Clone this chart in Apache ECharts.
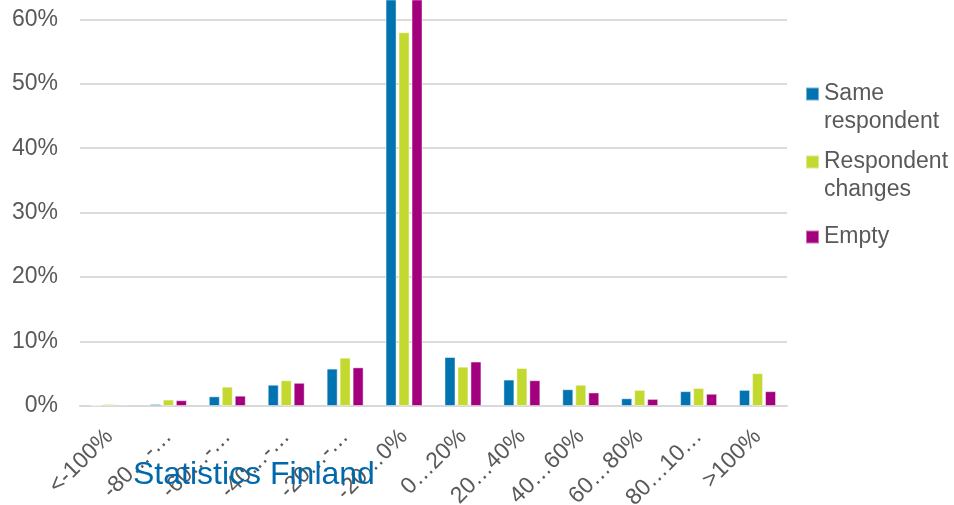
<!DOCTYPE html>
<html>
<head>
<meta charset="utf-8">
<script src="https://cdn.jsdelivr.net/npm/echarts@6/dist/echarts.min.js"></script>
<style>html,body{margin:0;padding:0;background:#fff}#c{width:954px;height:505px}</style>
</head>
<body>
<div id="c"></div>
<script>
const categories = ['<-100%', '-80…-…', '-60…-…', '-40…-…', '-20…-…', '-20…0%', '0…20%', '20…40%', '40…60%', '60…80%', '80…10…', '>100%'];
const seriesNames = ['Same\nrespondent', 'Respondent\nchanges', 'Empty'];
const sameRespondent = [0.1, 0.3, 1.5, 3.3, 5.8, 68.7, 7.6, 4.1, 2.6, 1.2, 2.3, 2.5];
const respondentChanges = [0.3, 1.0, 3.0, 4.0, 7.5, 58.0, 6.1, 5.9, 3.3, 2.5, 2.8, 5.1];
const empty = [0.2, 0.9, 1.6, 3.6, 6.0, 69.4, 6.9, 4.0, 2.1, 1.1, 1.9, 2.3];
const yTicks = [0, 10, 20, 30, 40, 50, 60];
const yMax = 63;
const footer = 'Statistics Finland';

const colors = ['#0073B0', '#C3D92F', '#A3007E'];
const font = 'Liberation Sans, Arial, sans-serif';
const textColor = '#595959';
const values = [sameRespondent, respondentChanges, empty];

const chart = echarts.init(document.getElementById('c'), null, {renderer: 'canvas'});

const lh = 28;
const centers = [94, 162, 237];
const legends = seriesNames.map((name, i) => {
  const lines = name.split('\n').length;
  const h = 13 + lh * (lines - 1);
  const icon = lines > 1 ? 'path://M0,0h13v13h-13z M0,' + (h - 0.01) + 'h0.01v0.01h-0.01z' : 'rect';
  return {
    data: [{name: name, icon: icon}],
    left: 805,
    top: centers[i] - 14,
    padding: 0,
    orient: 'vertical',
    itemWidth: 13,
    itemHeight: h,
    selectedMode: false,
    textStyle: {fontFamily: font, fontSize: 23, color: textColor, lineHeight: lh}
  };
});

chart.setOption({
  animation: false,
  color: colors,
  grid: {left: 80, right: 167, top: 0, bottom: 99, containLabel: false, outerBoundsMode: 'none'},
  legend: legends,
  xAxis: {
    type: 'category',
    data: categories,
    axisTick: {show: false},
    axisLine: {lineStyle: {color: '#D9D9D9', width: 2}},
    axisLabel: {interval: 0, rotate: 45, margin: 27, fontFamily: font, fontSize: 23, color: textColor}
  },
  yAxis: {
    type: 'value',
    min: yTicks[0],
    max: yMax,
    interval: 10,
    axisLine: {show: false},
    axisTick: {show: false},
    axisLabel: {margin: 22, fontFamily: font, fontSize: 23, color: textColor, showMaxLabel: false,
      formatter: v => (yTicks.indexOf(v) >= 0 ? v + '%' : '')},
    splitLine: {showMaxLine: false, lineStyle: {color: '#DCDCDC', width: 2}}
  },
  series: seriesNames.map((name, i) => ({
    name: name,
    type: 'bar',
    data: values[i],
    barWidth: 11,
    barGap: '18%',
    itemStyle: {color: colors[i], borderColor: 'rgba(255,255,255,0.45)', borderWidth: 1}
  })),
  graphic: [{
    type: 'text',
    left: 133,
    top: 459,
    z: 100,
    style: {text: footer, font: '32px Liberation Sans, Arial, sans-serif', fill: '#0068AC'}
  }]
});
</script>
</body>
</html>
